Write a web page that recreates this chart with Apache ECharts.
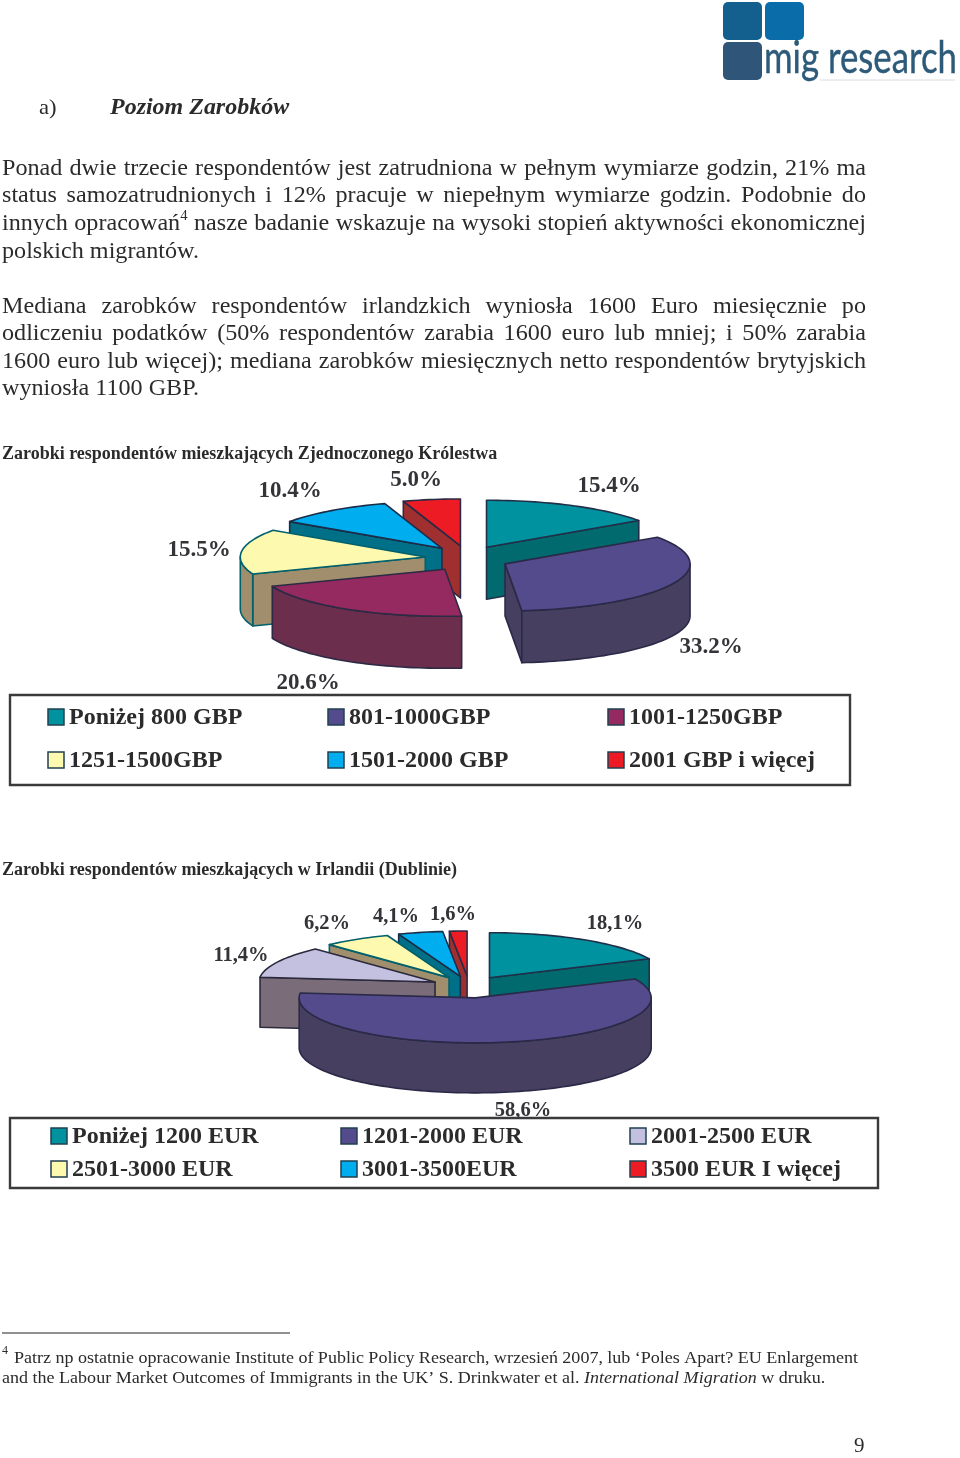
<!DOCTYPE html>
<html><head><meta charset="utf-8">
<style>html,body{margin:0;padding:0;background:#fff}#c{width:960px;height:1458px}</style>
<script src="https://cdn.jsdelivr.net/npm/echarts@6/dist/echarts.min.js"></script>
</head><body><div id="c"></div>
<script>
// ---- data ----
const ukCategories = ['Poniżej 800 GBP','801-1000GBP','1001-1250GBP','1251-1500GBP','1501-2000 GBP','2001 GBP i więcej'];
const ukValues = [15.4,33.2,20.6,15.5,10.4,5.0];
const ieCategories = ['Poniżej 1200 EUR','1201-2000 EUR','2001-2500 EUR','2501-3000 EUR','3001-3500EUR','3500 EUR I więcej'];
const ieValues = [18.1,58.6,11.4,6.2,4.1,1.6];
const ukTitle = 'Zarobki respondentów mieszkających Zjednoczonego Królestwa';
const ieTitle = 'Zarobki respondentów mieszkających w Irlandii (Dublinie)';
const para1 = ['Ponad dwie trzecie respondentów jest zatrudniona w pełnym wymiarze godzin, 21% ma','status samozatrudnionych i 12% pracuje w niepełnym wymiarze godzin. Podobnie do','innych opracowań^4 nasze badanie wskazuje na wysoki stopień aktywności ekonomicznej','polskich migrantów.'];
const para2 = ['Mediana zarobków respondentów irlandzkich wyniosła 1600 Euro miesięcznie po','odliczeniu podatków (50% respondentów zarabia 1600 euro lub mniej; i 50% zarabia','1600 euro lub więcej); mediana zarobków miesięcznych netto respondentów brytyjskich','wyniosła 1100 GBP.'];

// ---- style / layout ----
const SERIF = '"Liberation Serif","Times New Roman",serif';
const teal={top:'#00929f',wall:'#006a6e',line:'#20304a'}, purple={top:'#544b8c',wall:'#463f60',line:'#2a2a48'},
 maroon={top:'#952a60',wall:'#6b2e4c',line:'#2c2a44'}, yellow={top:'#fdfab0',wall:'#a08e6c',line:'#00606c'},
 blue={top:'#00aeef',wall:'#007088',line:'#1c2c48'}, red={top:'#ed1c24',wall:'#a03030',line:'#2c2a44'},
 lav={top:'#c4c0e0',wall:'#7a6c78',line:'#2a2a3c'};
const ukPalette=[teal,purple,maroon,yellow,blue,red];
const iePalette=[teal,purple,lav,yellow,blue,red];
const drawOrder=[5,4,3,2,0,1];
const ukLayout={cx:467,cy:558.5,rx:185,ry:47,depth:52,ex:42,ey:12.7};
const ieLayout={cx:469,cy:987,rx:176,ry:45,depth:50,ex:38,ey:11};
const ukLabelPos=[[609,486],[711,647],[308,683],[199,550],[290,491],[416,480]];
const ieLabelPos=[[615,924],[523,1111],[241,956],[327,924],[396,917],[453,915]];
const ukLabelFont='bold 23px '+SERIF, ieLabelFont='bold 20.5px '+SERIF;

const mctx=document.createElement('canvas').getContext('2d');
function tw(t,f){mctx.font=f;return mctx.measureText(t).width;}
function pieSeries(values,pal,L,labelPos,labelFont,fmt){
  const total=values.reduce((a,b)=>a+b,0);
  const starts=[];let acc=0;values.forEach(v=>{starts.push(acc);acc+=v;});
  return {
    type:'custom',coordinateSystem:'none',silent:true,animation:false,clip:false,z:2,
    data:drawOrder.map(i=>({value:[values[i],i]})),
    renderItem(params,api){
      const i=api.value(1),c=pal[i];
      const a0=starts[i]/total*2*Math.PI,a1=(starts[i]+api.value(0))/total*2*Math.PI,m=(a0+a1)/2;
      const ax=L.cx+L.ex*Math.sin(m),ay=L.cy-L.ey*Math.cos(m);
      const P=t=>[ax+L.rx*Math.sin(t),ay-L.ry*Math.cos(t)];
      const D=p=>[p[0],p[1]+L.depth];
      const arc=(s,e)=>{const n=Math.max(2,Math.ceil((e-s)/0.03)),r=[];for(let k=0;k<=n;k++)r.push(P(s+(e-s)*k/n));return r;};
      const st={lineWidth:1.6,stroke:c.line,lineJoin:'round'};
      const kids=[];const base=params.dataIndex*10;
      const poly=(pts,fill,k)=>kids.push({type:'polygon',z2:base+k,shape:{points:pts},style:Object.assign({fill},st)});
      if(Math.sin(a0)<-1e-6){const p=P(a0);poly([[ax,ay],p,D(p),[ax,ay+L.depth]],c.wall,0);}
      if(Math.sin(a1)>1e-6){const p=P(a1);poly([[ax,ay],p,D(p),[ax,ay+L.depth]],c.wall,1);}
      const s=Math.max(a0,Math.PI/2),e=Math.min(a1,1.5*Math.PI);
      if(e>s){const top=arc(s,e);poly(top.concat(top.map(D).reverse()),c.wall,2);}
      poly([[ax,ay]].concat(arc(a0,a1)),c.top,3);
      const lp=labelPos[i];
      kids.push({type:'text',z2:200,style:{text:fmt(api.value(0)),x:lp[0],y:lp[1],font:labelFont,fill:'#333338',textAlign:'center',textVerticalAlign:'middle'}});
      return {type:'group',children:kids};
    }
  };
}
const g=[];
function T(text,x,y,font,hs){g.push({type:'text',z:20,silent:true,x,y,scaleX:hs||1,style:{text,x:0,y:0,font,fill:'#2b2b2b',textAlign:'left',textVerticalAlign:'middle'}});}
const bodyFont='23px '+SERIF, bodyHs=1.05;
function justified(line,y,left,right,font,hs,doJustify){
  const words=line.split(' ').map(w=>{const p=w.split('^');return {t:p[0],sup:p[1]||''};});
  const supFont=font.replace(/[\d.]+px/,'14px');
  const w=words.map(o=>(tw(o.t,font)+(o.sup?tw(o.sup,supFont):0))*hs);
  const sum=w.reduce((a,b)=>a+b,0);
  const gap=doJustify?(right-left-sum)/(words.length-1):tw(' ',font)*hs;
  let x=left;
  words.forEach((o,i)=>{T(o.t,x,y,font,hs);if(o.sup)T(o.sup,x+tw(o.t,font)*hs,y-8,supFont,hs);x+=w[i]+gap;});
}
// logo
[[723,2,39,38,'#135f8e'],[765,2,39,38,'#0a6ca8'],[723,42,39,38,'#2f5678']].forEach(r=>g.push({type:'rect',z:5,silent:true,shape:{x:r[0],y:r[1],width:r[2],height:r[3],r:5},style:{fill:r[4]}}));
const logoFont='44px Lato';
g.push({type:'text',z:5,silent:true,x:764,y:59,scaleX:193/tw('mig research',logoFont),style:{text:'mig research',x:0,y:0,font:logoFont,fill:'#2d5a78',stroke:'#2d5a78',lineWidth:0.4,textVerticalAlign:'middle'}});
g.push({type:'line',z:4,silent:true,shape:{x1:820,y1:80,x2:955,y2:80},style:{stroke:'#d8dde2',lineWidth:1}});
// heading
T('a)',39,108,'22px '+SERIF,1.03);
T('Poziom Zarobków',110,108,'italic bold 23.5px '+SERIF,1.02);
para1.forEach((l,i)=>justified(l,[169,196,224,252][i],2,866,bodyFont,bodyHs,i<3));
para2.forEach((l,i)=>justified(l,[307,334,362,389][i],2,866,bodyFont,bodyHs,i<3));
T(ukTitle,2,454,'bold 18px '+SERIF);
T(ieTitle,2,870,'bold 18px '+SERIF);
// legend boxes
function legendBox(x,y,w,h,cats,pal,cols,rows,txX,swS,font){
  g.push({type:'rect',z:10,silent:true,shape:{x,y,width:w,height:h},style:{fill:'#fff',stroke:'#3a3a3a',lineWidth:2.4}});
  cats.forEach((c,i)=>{
    const cl=i%3,ry=rows[Math.floor(i/3)];
    g.push({type:'rect',z:20,silent:true,shape:{x:cols[cl],y:ry-swS/2,width:swS,height:swS},style:{fill:pal[i].top,stroke:'#204050',lineWidth:1.5}});
    T(c,cols[cl]+txX,ry+1,font);
  });
}
legendBox(10,695,840,90,ukCategories,ukPalette,[48,328,608],[717,760],21,16,'bold 24px '+SERIF);
legendBox(10,1118,868,70,ieCategories,iePalette,[51,341,630],[1136,1169],21,16,'bold 24px '+SERIF);
// footnote
g.push({type:'line',z:20,silent:true,shape:{x1:2,y1:1333,x2:290,y2:1333},style:{stroke:'#222',lineWidth:1}});
const fn='17.6px '+SERIF, fnHs=1.025;
T('4',2,1351,'12px '+SERIF);
justified('Patrz np ostatnie opracowanie Institute of Public Policy Research, wrzesień 2007, lub ‘Poles Apart? EU Enlargement',1358,14,858,fn,fnHs,true);
const fnA='and the Labour Market Outcomes of Immigrants in the UK’ S. Drinkwater et al. ', fnB='International Migration';
T(fnA,2,1378,fn,fnHs);
const pre=tw(fnA,fn)*fnHs;
T(fnB,2+pre,1378,'italic '+fn,fnHs);
T(' w druku.',2+pre+tw(fnB,'italic '+fn)*fnHs,1378,fn,fnHs);
T('9',854,1446,'21px '+SERIF);

const chart=echarts.init(document.getElementById('c'),null,{renderer:'canvas'});
chart.setOption({
  animation:false,backgroundColor:'#fff',
  graphic:{elements:g},
  series:[
    pieSeries(ukValues,ukPalette,ukLayout,ukLabelPos,ukLabelFont,v=>v.toFixed(1)+'%'),
    pieSeries(ieValues,iePalette,ieLayout,ieLabelPos,ieLabelFont,v=>v.toFixed(1).replace('.',',')+'%')
  ]
});
</script></body></html>
